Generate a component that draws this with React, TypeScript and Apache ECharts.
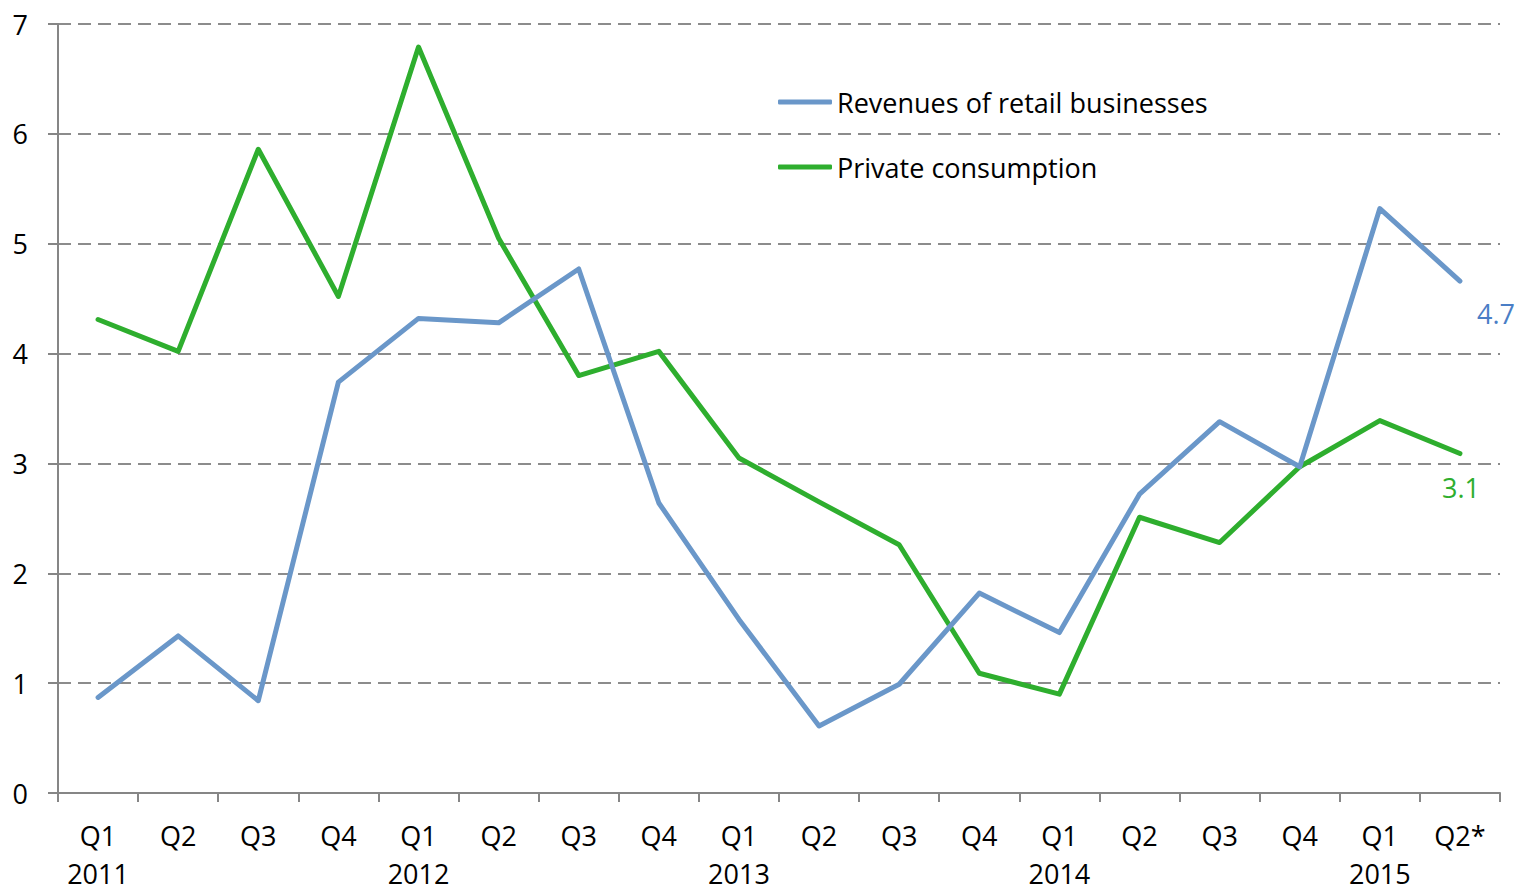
import React, { useEffect, useRef } from "react";
import * as echarts from "echarts";

const quarters = ["Q1", "Q2", "Q3", "Q4", "Q1", "Q2", "Q3", "Q4", "Q1", "Q2", "Q3", "Q4", "Q1", "Q2", "Q3", "Q4", "Q1", "Q2*"];
const years = ["2011", "", "", "", "2012", "", "", "", "2013", "", "", "", "2014", "", "", "", "2015", ""];
const retailRevenues = [0.87, 1.43, 0.84, 3.74, 4.32, 4.28, 4.77, 2.64, 1.58, 0.61, 0.99, 1.82, 1.46, 2.72, 3.38, 2.97, 5.32, 4.66];
const privateConsumption = [4.31, 4.02, 5.86, 4.52, 6.79, 5.05, 3.80, 4.02, 3.05, 2.65, 2.26, 1.09, 0.90, 2.51, 2.28, 2.97, 3.39, 3.09];
const seriesNames = ["Revenues of retail businesses", "Private consumption"];
const endLabels = ["4.7", "3.1"];
const yTicks = { min: 0, max: 7, interval: 1 };

const FONT = "'Open Sans', 'Noto Sans', sans-serif";
const FS = 27;

export default function App() {
  const ref = useRef<HTMLDivElement>(null);
  useEffect(() => {
    if (!ref.current) return;
    const chart = echarts.init(ref.current, null, { renderer: "svg" });
    const categories = quarters.map((q, i) => `${q}\n${years[i]}`);
    chart.setOption({
      animation: false,
      backgroundColor: "#ffffff",
      textStyle: { fontFamily: FONT },
      grid: { left: 58, right: 17, top: 24, bottom: 90, containLabel: false },
      legend: {
        orient: "vertical",
        left: 778,
        top: 86,
        padding: 0,
        itemWidth: 54,
        itemHeight: 5,
        itemGap: 33,
        icon: "roundRect",
        textStyle: { fontFamily: FONT, fontSize: FS, color: "#000", lineHeight: 32 },
        data: seriesNames,
      },
      xAxis: {
        type: "category",
        data: categories,
        boundaryGap: true,
        axisLine: { lineStyle: { color: "#868686", width: 2 } },
        axisTick: { show: true, length: 9, lineStyle: { color: "#868686", width: 2 } },
        axisLabel: {
          interval: 0,
          margin: 23,
          fontFamily: FONT,
          fontSize: FS,
          color: "#000",
          lineHeight: 38,
        },
        splitLine: { show: false },
      },
      yAxis: {
        type: "value",
        min: yTicks.min,
        max: yTicks.max,
        interval: yTicks.interval,
        axisLine: { show: true, lineStyle: { color: "#868686", width: 2 } },
        axisTick: { show: true, length: 10, lineStyle: { color: "#868686", width: 2 } },
        axisLabel: { margin: 30, fontFamily: FONT, fontSize: FS, color: "#000" },
        splitLine: { show: true, lineStyle: { color: "#8c8c8c", width: 2, type: [13, 7] } },
      },
      series: [
        {
          name: seriesNames[0],
          type: "line",
          data: retailRevenues,
          symbol: "none",
          color: "#6a97c9",
          lineStyle: { width: 5, color: "#6a97c9", cap: "round", join: "round" },
          endLabel: {
            show: true,
            formatter: endLabels[0],
            fontFamily: FONT,
            fontSize: FS,
            color: "#4a7ec6",
            offset: [9, 32],
          },
          z: 3,
        },
        {
          name: seriesNames[1],
          type: "line",
          data: privateConsumption,
          symbol: "none",
          color: "#2eae2e",
          lineStyle: { width: 5, color: "#2eae2e", cap: "round", join: "round" },
          endLabel: {
            show: true,
            formatter: endLabels[1],
            fontFamily: FONT,
            fontSize: FS,
            color: "#2eae2e",
            offset: [-26, 34],
          },
          z: 2,
        },
      ],
    });
    return () => chart.dispose();
  }, []);
  return (
    <div
      ref={ref}
      style={{ position: "fixed", left: 0, top: 0, width: 1517, height: 892, background: "#fff" }}
    />
  );
}
